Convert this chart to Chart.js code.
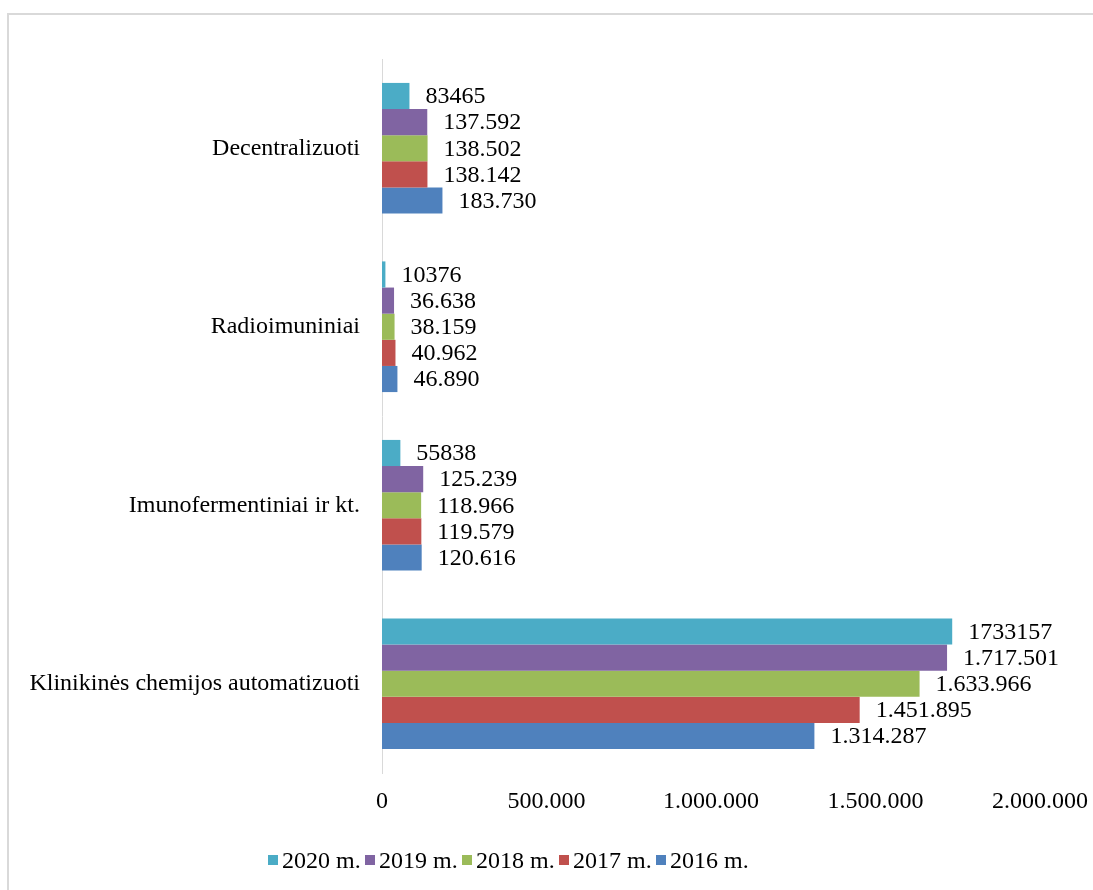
<!DOCTYPE html>
<html>
<head>
<meta charset="utf-8">
<script src="https://cdn.jsdelivr.net/npm/chart.js@4.4.0/dist/chart.umd.min.js"></script>
<style>
    html, body { margin: 0; padding: 0; background: #fff; overflow: hidden; }
    #frame {
        position: absolute; left: 7px; top: 13px; width: 1200px; height: 1000px;
        border: 2px solid #d9d9d9; box-sizing: border-box;
    }
    #wrap { position: absolute; left: 0; top: 0; width: 1093px; height: 890px; }
    #legend {
        position: absolute; left: 268px; top: 846px; height: 28px;
        display: flex; align-items: center;
        font: 24px "Liberation Serif", "Times New Roman", serif; color: #000;
    }
    #legend .item { width: 97px; display: flex; align-items: center; white-space: nowrap; }
    #legend .box { width: 10px; height: 10px; margin-right: 4px; }
</style>
</head>
<body>
<div id="frame"></div>
<div id="wrap"><canvas id="chart" width="1093" height="890"></canvas></div>
<div id="legend"></div>
<script>
// values
const categories = ['Decentralizuoti', 'Radioimuniniai', 'Imunofermentiniai ir kt.', 'Klinikinės chemijos automatizuoti'];
const seriesNames = ['2020 m.', '2019 m.', '2018 m.', '2017 m.', '2016 m.'];
const seriesColors = ['#4BACC6', '#8064A2', '#9BBB59', '#C0504D', '#4F81BD'];

const values2020 = [83465, 10376, 55838, 1733157];
const values2019 = [137592, 36638, 125239, 1717501];
const values2018 = [138502, 38159, 118966, 1633966];
const values2017 = [138142, 40962, 119579, 1451895];
const values2016 = [183730, 46890, 120616, 1314287];
const seriesValues = [values2020, values2019, values2018, values2017, values2016];

// 2020 labels are printed without thousand separators in the source
const dottedLabels = [false, true, true, true, true];

const tickValues = [0, 500000, 1000000, 1500000, 2000000];
const tickLabels = ['0', '500.000', '1.000.000', '1.500.000', '2.000.000'];

const FONT = '"Liberation Serif", "Times New Roman", serif';
const FONT_SIZE = 24;

function withDots(n) {
    return String(n).replace(/\B(?=(\d{3})+(?!\d))/g, '.');
}

const seriesLabels = seriesValues.map((vals, i) =>
    vals.map(v => dottedLabels[i] ? withDots(v) : String(v)));

const valueLabels = {
    id: 'valueLabels',
    afterDatasetsDraw(chart) {
        const ctx = chart.ctx;
        ctx.save();
        ctx.font = FONT_SIZE + 'px ' + FONT;
        ctx.fillStyle = '#000';
        ctx.textBaseline = 'middle';
        ctx.textAlign = 'left';
        chart.data.datasets.forEach((ds, i) => {
            chart.getDatasetMeta(i).data.forEach((bar, j) => {
                ctx.fillText(seriesLabels[i][j], bar.x + 16, bar.y + 1);
            });
        });
        ctx.restore();
    }
};

const datasets = seriesNames.map((name, i) => ({
    label: name,
    data: seriesValues[i],
    backgroundColor: seriesColors[i],
    borderWidth: 0,
    categoryPercentage: 0.732,
    barPercentage: 1
}));

new Chart(document.getElementById('chart'), {
    type: 'bar',
    data: { labels: categories, datasets },
    plugins: [valueLabels],
    options: {
        indexAxis: 'y',
        responsive: false,
        animation: false,
        layout: { padding: { top: 59, right: 53, left: 0, bottom: 0 } },
        plugins: {
            legend: { display: false },
            tooltip: { enabled: false }
        },
        scales: {
            x: {
                min: 0,
                max: 2000000,
                afterFit: s => {
                    s.height = 117;
                    s.paddingLeft = 0;
                    s.paddingRight = 53;
                },
                afterBuildTicks: s => { s.ticks = tickValues.map(v => ({ value: v })); },
                ticks: {
                    color: '#000',
                    font: { family: FONT, size: FONT_SIZE },
                    padding: 14,
                    maxRotation: 0,
                    callback: (v) => tickLabels[tickValues.indexOf(v)]
                },
                grid: { display: false, drawTicks: false },
                border: { display: false }
            },
            y: {
                afterFit: s => { s.width = 382; },
                ticks: {
                    color: '#000',
                    font: { family: FONT, size: FONT_SIZE },
                    padding: 22
                },
                grid: { display: false, drawTicks: false },
                border: { display: true, color: '#d9d9d9', width: 1 }
            }
        }
    }
});

const legendEl = document.getElementById('legend');
seriesNames.forEach((name, i) => {
    const item = document.createElement('div');
    item.className = 'item';
    const box = document.createElement('span');
    box.className = 'box';
    box.style.background = seriesColors[i];
    const txt = document.createElement('span');
    txt.textContent = name;
    item.appendChild(box);
    item.appendChild(txt);
    legendEl.appendChild(item);
});
</script>
</body>
</html>
